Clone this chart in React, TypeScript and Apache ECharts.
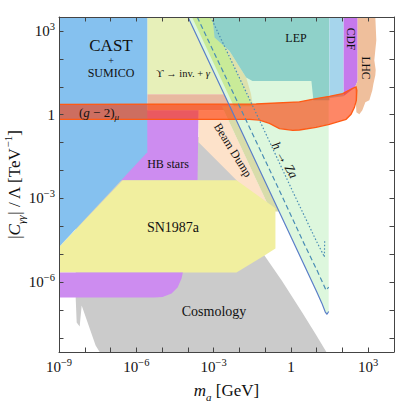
import React, { useEffect, useRef } from 'react';
import * as echarts from 'echarts';

const SERIF = '"Liberation Serif", "DejaVu Serif", serif';
const AX = '#444444';

// Axis extents, in log10 units (m_a in GeV, |C|/Λ in TeV^-1)
const xRange = [-9, 4];
const yRange = [-8.5, 3.5];
const xTickExps = [-9, -8, -7, -6, -5, -4, -3, -2, -1, 0, 1, 2, 3];
const xLabelExps = [-9, -6, -3, 0, 3];
const yTickExps = [-8, -7, -6, -5, -4, -3, -2, -1, 0, 1, 2, 3];
const yLabelExps = [-6, -3, 0, 3];

// Regions: [log10 m_a, log10 |C|/Λ]
const cosmology = [[-8.353, -6.545], [-8.314, -7.441], [-8.198, -7.584], [-8.12, -6.832], [-7.578, -8.265], [-7.422, -8.5], [1.376, -8.5], [0.95, -7.85], [0.45, -7.1], [-0.35, -5.95], [-1.027, -5.039], [-1.9, -2.351], [-3.4, -0.8], [-8.353, -0.8]];
const beamDump = [[-3.585, 0.158], [-2.609, 0.158], [-0.826, -3.355], [-0.9, -3.6], [-2.112, -2.351], [-3.585, -0.989]];
const khakiStripe = [[-2.681, 0.3], [-2.371, 0.3], [-0.46, -3.465], [-0.77, -3.465]];
const sn1987a = [[-6.531, -2.351], [-2.112, -2.351], [-0.601, -3.355], [-0.601, -4.789], [-1.027, -5.039], [-2.112, -5.649], [-9, -5.649], [-9, -4.742]];
const lowPurple = [[-9, -5.649], [-4.194, -5.649], [-4.244, -5.864], [-4.399, -6.187], [-4.632, -6.401], [-4.981, -6.527], [-5.291, -6.545], [-9, -6.545]];
const hbStars = [[-6.8, 0.158], [-3.585, 0.158], [-3.624, -2.351], [-6.8, -2.351]];
const upsilon = [[-5.574, 3.5], [-1.2, 3.5], [-1.2, 0.731], [-5.574, 0.731]];
const salmon = [[-5.574, 0.731], [-2.45, 0.731], [-2.3, 0.158], [-5.574, 0.158]];
const hToZa = [[-3.996, 3.5], [1.465, 3.5], [1.465, -7.05], [1.4, -7.15], [1.33, -7.06], [1.2, -6.75], [1.0, -6.342], [0.5, -5.357], [0, -4.372], [-1, -2.402], [-2, -0.432], [-3, 1.538]];
const greenBand = [[-3.84, 3.5], [-3.116, 3.5], [-1.475, 0.3], [-2.216, 0.3]];
const khakiTop = [[-3.116, 3.5], [-3.043, 3.5], [-2.965, 2.763], [-2.384, 2.283], [-1.736, 1.33], [-1.55, 0.75], [-1.475, 0.3]];
const lep = [[-3.043, 3.5], [1.492, 3.5], [1.492, 0.516], [0.872, 0.516], [0.795, 1.208], [-1.492, 1.208], [-1.736, 1.33], [-2.384, 2.283], [-2.965, 2.763]];
const lightBlue = [[1.492, 3.5], [2.047, 3.5], [2.047, 0.66], [1.492, 0.6]];
const cdf = [[2.047, 3.5], [2.589, 3.5], [2.589, 1.208], [2.5, 1.018], [2.395, 0.91], [2.19, 0.767], [2.047, 0.67]];
const lhc = [[2.589, 3.5], [3.275, 3.5], [3.314, 2.667], [3.236, 1.95], [3.29, 1.6], [3.275, 1.412], [3.2, 1.1], [3.159, 0.875], [3.043, 0.516], [2.888, 0.444], [2.771, 0.158], [2.655, 0.014], [2.539, 0.086], [2.519, 0.516], [2.5, 1.018], [2.589, 1.208]];
const cast = [[-9, 3.5], [-5.574, 3.5], [-5.574, -1.348], [-9, -4.742]];
const gMinus2 = [[-9, 0.373], [-1.349, 0.384], [0.329, 0.462], [0.977, 0.577], [1.492, 0.659], [2.008, 0.756], [2.395, 0.946], [2.527, 0.993], [2.558, 0.875], [2.539, 0.516], [2.461, 0.254], [2.333, 0.014], [2.14, -0.165], [1.814, -0.254], [1.492, -0.344], [0.977, -0.452], [0.329, -0.548], [0.07, -0.559], [-0.446, -0.498], [-0.833, -0.308], [-1.221, -0.194], [-1.609, -0.165], [-9, -0.165]];

// Limit curves
const solidLine = [[-3.996, 3.5], [-3, 1.538], [-2, -0.432], [-1, -2.402], [0, -4.372], [0.5, -5.357], [1.0, -6.342], [1.2, -6.75], [1.33, -7.06], [1.4, -7.15], [1.465, -7.05]];
const dashedLine = [[-3.637, 3.5], [-2, 0.31], [-0.45, -2.71], [0.5, -4.6], [1.0, -5.55], [1.25, -6.05], [1.364, -6.29], [1.465, -6.18]];
const dottedLine = [[-3.116, 3.5], [-1, -0.63], [0.07, -2.75], [1.0, -4.55], [1.25, -5.0], [1.298, -5.1], [1.31, -4.5]];

const regions: { name: string; pts: number[][]; fill: string; stroke?: string; lw?: number }[] = [
  { name: 'Cosmology', pts: cosmology, fill: '#cbcbcb' },
  { name: 'ϒ → inv. + γ', pts: upsilon, fill: '#e7f0b9' },
  { name: 'salmon', pts: salmon, fill: '#e8b9a0' },
  { name: 'h → Za', pts: hToZa, fill: '#ddf7dd' },
  { name: 'green band', pts: greenBand, fill: '#c9eb98' },
  { name: 'khaki', pts: khakiTop, fill: '#dde1ad' },
  { name: 'LEP', pts: lep, fill: '#8fd1c9' },
  { name: 'light blue', pts: lightBlue, fill: '#a6d5ec' },
  { name: 'CDF', pts: cdf, fill: '#c679ec' },
  { name: 'LHC', pts: lhc, fill: '#efbf9c' },
  { name: 'Beam Dump', pts: beamDump, fill: '#fde2ca' },
  { name: 'stripe', pts: khakiStripe, fill: '#d8dcaa' },
  { name: 'HB stars', pts: hbStars, fill: '#cd8cf0' },
  { name: 'SN1987a', pts: sn1987a, fill: '#f1ef9f' },
  { name: 'low purple', pts: lowPurple, fill: '#cd8cf0' },
  { name: 'CAST', pts: cast, fill: '#85c1ef' },
  { name: '(g-2)', pts: gMinus2, fill: 'rgba(253,55,0,0.6)', stroke: '#ff5a14', lw: 1.3 },
];

const expLabel = (v: number) => {
  const r = Math.round(v);
  if (r === 0) return '{b|1}';
  return `{b|10}{s|${r < 0 ? '−' + -r : r}}`;
};
const tickRich = {
  b: { fontFamily: SERIF, fontSize: 15, lineHeight: 20, color: '#111' },
  s: { fontFamily: SERIF, fontSize: 10.5, lineHeight: 10, verticalAlign: 'top', color: '#111' },
};
const titleRich = {
  n: { fontFamily: SERIF, fontSize: 17, lineHeight: 24, color: '#111' },
  i: { fontFamily: SERIF, fontSize: 17, lineHeight: 24, fontStyle: 'italic', color: '#111' },
  sub: { fontFamily: SERIF, fontSize: 11, lineHeight: 12, verticalAlign: 'bottom', fontStyle: 'italic', color: '#111' },
  sup: { fontFamily: SERIF, fontSize: 11, lineHeight: 12, verticalAlign: 'top', color: '#111' },
};

function polySeries(r: typeof regions[number], z: number) {
  return {
    type: 'custom',
    name: r.name,
    z,
    silent: true,
    clip: true,
    data: r.pts,
    encode: { x: 0, y: 1 },
    renderItem: (params: any, api: any) => {
      if (params.dataIndex !== 0) return { type: 'group', children: [] };
      return {
        type: 'polygon',
        shape: { points: r.pts.map((p) => api.coord(p)) },
        style: { fill: r.fill, stroke: r.stroke || 'none', lineWidth: r.lw || 0 },
      };
    },
  };
}

function lineSeries(name: string, data: number[][], color: string, type: any, width: number) {
  return {
    type: 'line',
    name,
    z: 40,
    data,
    symbol: 'none',
    silent: true,
    clip: true,
    lineStyle: { color, width, type },
  };
}

function axisCommon(range: number[], ticks: number[]) {
  return {
    type: 'value',
    min: range[0],
    max: range[1],
    z: 50,
    splitLine: { show: false },
    axisLine: { show: true, onZero: false, lineStyle: { color: AX, width: 1 } },
    axisTick: { show: true, inside: true, length: 4.5, customValues: ticks, lineStyle: { color: AX, width: 1 } },
  };
}

function txt(text: string, x: number, y: number, size: number, rot = 0, rich?: any) {
  return {
    type: 'text',
    x,
    y,
    rotation: (rot * Math.PI) / 180,
    z: 100,
    silent: true,
    style: {
      text,
      fill: '#111',
      fontFamily: SERIF,
      fontSize: size,
      align: 'center',
      verticalAlign: 'middle',
      rich,
    },
  };
}

const labRich = (size: number) => ({
  n: { fontFamily: SERIF, fontSize: size, color: '#111', lineHeight: size + 6 },
  i: { fontFamily: SERIF, fontSize: size, fontStyle: 'italic', color: '#111', lineHeight: size + 6 },
  sub: { fontFamily: SERIF, fontSize: size * 0.7, fontStyle: 'italic', color: '#111', lineHeight: size * 0.7, verticalAlign: 'bottom' },
});

const labelBase = { fontFamily: SERIF, fontSize: 15, color: '#111' };

export default function App() {
  const ref = useRef<HTMLDivElement>(null);
  useEffect(() => {
    if (!ref.current) return;
    const chart = echarts.init(ref.current, null, { renderer: 'svg' });
    const option: any = {
      animation: false,
      backgroundColor: '#ffffff',
      textStyle: { fontFamily: SERIF },
      grid: { left: 59, right: 21, top: 17, bottom: 51, containLabel: false, outerBoundsMode: 'none' },
      xAxis: [
        {
          ...axisCommon(xRange, xTickExps),
          position: 'bottom',
          axisLabel: {
            show: true, ...labelBase, customValues: xLabelExps, formatter: expLabel, rich: tickRich, margin: 5,
            align: 'center', showMinLabel: true, showMaxLabel: true, alignMinLabel: 'center', alignMaxLabel: 'center',
          },
          name: '{i|m}{sub|a}{n| [GeV]}',
          nameLocation: 'middle',
          nameGap: 26,
          nameMoveOverlap: false,
          nameTextStyle: { fontFamily: SERIF, fontSize: 17, rich: titleRich },
        },
        {
          ...axisCommon(xRange, xTickExps),
          position: 'top',
          axisLabel: { show: false },
        },
      ],
      yAxis: [
        {
          ...axisCommon(yRange, yTickExps),
          position: 'left',
          axisLabel: { show: true, ...labelBase, customValues: yLabelExps, formatter: expLabel, rich: tickRich, margin: 4 },
          name: '{n||}{i|C}{sub|γγ}{n|| / Λ [TeV}{sup|−1}{n|]}',
          nameLocation: 'middle',
          nameRotate: 90,
          nameGap: 33,
          nameMoveOverlap: false,
          nameTextStyle: { fontFamily: SERIF, fontSize: 17, rich: titleRich },
        },
        {
          ...axisCommon(yRange, yTickExps),
          position: 'right',
          axisLabel: { show: false },
        },
      ],
      series: [
        ...regions.map((r, i) => polySeries(r, 2 + i)),
        lineSeries('solid', solidLine, '#5a7ec8', 'solid', 1.2),
        lineSeries('dashed', dashedLine, '#4a8db5', [5, 3], 1.2),
        lineSeries('dotted', dottedLine, '#4a8db5', [1.5, 2], 1.2),
      ],
      graphic: [
        txt('CAST', 111, 45, 17),
        txt('+', 111, 60, 10),
        txt('SUMICO', 111, 73, 12),
        txt('{n|ϒ → inv. + }{i|γ}', 183, 73, 10.5, 0, labRich(10.5)),
        txt('LEP', 296, 38, 12),
        txt('CDF', 351, 39, 11.5, -90),
        txt('LHC', 366, 68, 11.5, -90),
        txt('{n|(}{i|g}{n| − 2)}{sub|μ}', 99, 112, 13, 0, labRich(13)),
        txt('HB stars', 168, 164, 12),
        txt('Beam Dump', 233, 150, 12, -58),
        txt('{i|h}{n| → }{i|Za}', 285, 160, 13, -60, labRich(13)),
        txt('SN1987a', 173, 227, 14),
        txt('Cosmology', 214, 311, 14),
      ],
    };
    chart.setOption(option);
    return () => chart.dispose();
  }, []);
  return <div ref={ref} style={{ position: 'fixed', left: 0, top: 0, width: 415, height: 403, background: '#fff' }} />;
}
